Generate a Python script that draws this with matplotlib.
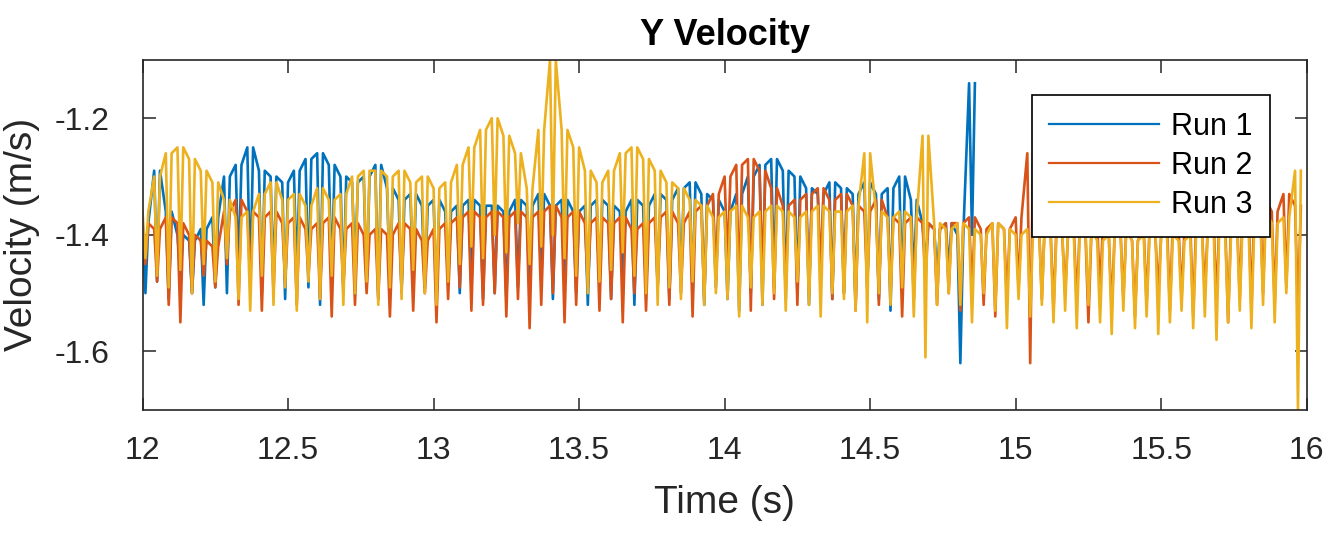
"""Y Velocity — tres ensayos superpuestos (estilo MATLAB)."""

import numpy as np
import matplotlib
matplotlib.use("Agg")
import matplotlib.pyplot as plt

plt.rcParams.update({
    "font.family":        "Liberation Sans",
    "axes.unicode_minus": False,
    "axes.edgecolor":     "#262626",
    "xtick.color":        "#262626",
    "ytick.color":        "#262626",
    "xtick.direction":    "in",
    "ytick.direction":    "in",
    "xtick.top":          True,
    "ytick.right":        True,
})

# ---------------------------------------------------------------------------
# Datos: máximos (tops) y mínimos (bottoms) de cada
# oscilación, muestreados cada 0.04 s desde t = 12 s
# ---------------------------------------------------------------------------
T0 = 12.0
DT = 0.04

run1_tops = [
    -1.38, -1.29, -1.36, -1.40, -1.41, -1.39, -1.37, -1.30, -1.28, -1.25,
    -1.29, -1.30, -1.31, -1.29, -1.27, -1.26, -1.28, -1.30, -1.31, -1.30,
    -1.28, -1.32, -1.34, -1.33, -1.35, -1.34, -1.36, -1.35, -1.34, -1.35,
    -1.35, -1.36, -1.34, -1.35, -1.33, -1.35, -1.34, -1.36, -1.35, -1.34,
    -1.35, -1.36, -1.34, -1.35, -1.33, -1.34, -1.32, -1.31, -1.33, -1.34,
    -1.36, -1.33, -1.30, -1.28, -1.27, -1.29, -1.30, -1.32, -1.33, -1.31,
    -1.32, -1.33, -1.31, -1.33, -1.32, -1.30, -1.34, -1.38, -1.39, -1.38,
    -1.40, -1.14,
]
run1_bottoms = [
    -1.50, -1.48, -1.51, -1.47, -1.50, -1.52, -1.49, -1.50, -1.46, -1.48,
    -1.50, -1.48, -1.51, -1.47, -1.49, -1.52, -1.48, -1.50, -1.46, -1.49,
    -1.51, -1.48, -1.50, -1.47, -1.49, -1.51, -1.48, -1.50, -1.49, -1.51,
    -1.50, -1.51, -1.49, -1.50, -1.48, -1.51, -1.49, -1.50, -1.52, -1.49,
    -1.51, -1.48, -1.52, -1.50, -1.49, -1.51, -1.48, -1.50, -1.52, -1.49,
    -1.51, -1.53, -1.50, -1.52, -1.49, -1.51, -1.50, -1.52, -1.48, -1.51,
    -1.50, -1.52, -1.49, -1.51, -1.53, -1.50, -1.48, -1.45, -1.47, -1.46,
    -1.62, -1.40,
]

run2_tops = [
    -1.38, -1.39, -1.37, -1.38, -1.40, -1.41, -1.42, -1.36, -1.34, -1.36,
    -1.37, -1.36, -1.38, -1.37, -1.39, -1.38, -1.37, -1.39, -1.38, -1.40,
    -1.39, -1.40, -1.38, -1.39, -1.41, -1.39, -1.38, -1.37, -1.36, -1.37,
    -1.36, -1.37, -1.36, -1.37, -1.36, -1.35, -1.37, -1.36, -1.38, -1.37,
    -1.38, -1.37, -1.39, -1.38, -1.37, -1.36, -1.38, -1.36, -1.35, -1.33,
    -1.30, -1.28, -1.27, -1.29, -1.32, -1.35, -1.34, -1.33, -1.32, -1.34,
    -1.33, -1.35, -1.36, -1.34, -1.37, -1.38, -1.37, -1.38, -1.39, -1.38,
    -1.38, -1.37, -1.39, -1.38, -1.39, -1.37, -1.26, -1.38, -1.39, -1.40,
    -1.39, -1.40, -1.38, -1.40, -1.39, -1.41, -1.39, -1.40, -1.38, -1.39,
    -1.38, -1.39, -1.37, -1.38, -1.36, -1.35, -1.34, -1.36, -1.33, -1.35,
]
run2_bottoms = [
    -1.45, -1.48, -1.52, -1.55, -1.50, -1.47, -1.49, -1.45, -1.52, -1.48,
    -1.53, -1.50, -1.48, -1.52, -1.47, -1.51, -1.54, -1.49, -1.52, -1.50,
    -1.51, -1.54, -1.49, -1.53, -1.50, -1.55, -1.51, -1.49, -1.53, -1.52,
    -1.50, -1.54, -1.51, -1.56, -1.52, -1.50, -1.55, -1.52, -1.49, -1.53,
    -1.51, -1.55, -1.50, -1.53, -1.49, -1.52, -1.50, -1.54, -1.51, -1.48,
    -1.45, -1.50, -1.53, -1.48, -1.51, -1.49, -1.52, -1.50, -1.47, -1.51,
    -1.50, -1.53, -1.49, -1.52, -1.50, -1.54, -1.51, -1.48, -1.52, -1.50,
    -1.53, -1.50, -1.52, -1.54, -1.51, -1.49, -1.62, -1.51, -1.53, -1.50,
    -1.52, -1.55, -1.50, -1.53, -1.51, -1.54, -1.52, -1.50, -1.53, -1.51,
    -1.54, -1.50, -1.52, -1.55, -1.51, -1.53, -1.50, -1.52, -1.49, -1.53,
]

run3_tops = [
    -1.36, -1.30, -1.26, -1.25, -1.27, -1.29, -1.31, -1.34, -1.37, -1.36,
    -1.33, -1.31, -1.34, -1.33, -1.35, -1.32, -1.34, -1.33, -1.30, -1.29,
    -1.29, -1.30, -1.29, -1.31, -1.30, -1.32, -1.31, -1.28, -1.25, -1.22,
    -1.20, -1.23, -1.26, -1.32, -1.22, -1.10, -1.22, -1.25, -1.29, -1.31,
    -1.29, -1.26, -1.25, -1.27, -1.29, -1.31, -1.32, -1.34, -1.35, -1.37,
    -1.36, -1.35, -1.37, -1.36, -1.35, -1.36, -1.37, -1.36, -1.35, -1.36,
    -1.36, -1.35, -1.26, -1.36, -1.37, -1.36, -1.37, -1.23, -1.38, -1.39,
    -1.38, -1.39, -1.40, -1.38, -1.39, -1.40, -1.39, -1.38, -1.40, -1.39,
    -1.40, -1.39, -1.41, -1.40, -1.39, -1.41, -1.40, -1.39, -1.40, -1.41,
    -1.40, -1.39, -1.38, -1.40, -1.37, -1.38, -1.36, -1.38, -1.37, -1.29,
]
run3_bottoms = [
    -1.44, -1.47, -1.49, -1.46, -1.50, -1.45, -1.48, -1.44, -1.51, -1.53,
    -1.47, -1.52, -1.49, -1.53, -1.48, -1.51, -1.47, -1.52, -1.50, -1.48,
    -1.52, -1.49, -1.51, -1.46, -1.50, -1.52, -1.48, -1.45, -1.42, -1.44,
    -1.40, -1.43, -1.38, -1.45, -1.42, -1.40, -1.44, -1.47, -1.50, -1.48,
    -1.46, -1.43, -1.47, -1.50, -1.52, -1.49, -1.51, -1.48, -1.52, -1.50,
    -1.51, -1.54, -1.49, -1.52, -1.50, -1.53, -1.48, -1.52, -1.54, -1.50,
    -1.51, -1.53, -1.55, -1.50, -1.52, -1.49, -1.54, -1.61, -1.52, -1.50,
    -1.52, -1.55, -1.50, -1.53, -1.56, -1.51, -1.54, -1.52, -1.55, -1.53,
    -1.56, -1.52, -1.55, -1.57, -1.53, -1.56, -1.54, -1.57, -1.55, -1.53,
    -1.56, -1.54, -1.58, -1.55, -1.53, -1.56, -1.52, -1.55, -1.50, -1.70,
]

RUNS = [
    ("Run 1", run1_tops, run1_bottoms, "#0072BD"),
    ("Run 2", run2_tops, run2_bottoms, "#D95319"),
    ("Run 3", run3_tops, run3_bottoms, "#EDB120"),
]

x_ticks = [12, 12.5, 13, 13.5, 14, 14.5, 15, 15.5, 16]
x_tick_labels = ["12", "12.5", "13", "13.5", "14", "14.5", "15", "15.5", "16"]
y_ticks = [-1.6, -1.4, -1.2]
y_tick_labels = ["-1.6", "-1.4", "-1.2"]


def build_series(tops, bottoms):
    """Cada oscilación: cae desde el máximo al mínimo y vuelve al máximo
    (pico estrecho); los máximos consecutivos forman la envolvente."""
    n = len(tops)
    t_top = T0 + DT * np.arange(n)
    t = np.empty(3 * n)
    v = np.empty(3 * n)
    t[0::3] = t_top
    t[1::3] = t_top + DT * 0.25
    t[2::3] = t_top + DT * 0.5
    v[0::3] = tops
    v[1::3] = bottoms
    v[2::3] = tops
    return t, v


def main():
    fig = plt.figure(figsize=(13.32, 5.35), dpi=100)
    ax = fig.add_axes([0.107, 0.234, 0.874, 0.654])

    for label, tops, bottoms, color in RUNS:
        t, v = build_series(tops, bottoms)
        ax.plot(t, v, color=color, linewidth=1.9, label=label)

    ax.set_xlim(12, 16)
    ax.set_ylim(-1.7, -1.1)
    ax.set_xticks(x_ticks)
    ax.set_xticklabels(x_tick_labels)
    ax.set_yticks(y_ticks)
    ax.set_yticklabels(y_tick_labels)
    ax.tick_params(labelsize=23, length=9, width=1.1)
    ax.tick_params(axis="x", pad=19)
    ax.tick_params(axis="y", pad=24)
    for sp in ax.spines.values():
        sp.set_linewidth(1.2)

    ax.set_xlabel("Time (s)", fontsize=28, color="#262626")
    ax.set_ylabel("Velocity (m/s)", fontsize=28, color="#262626")
    ax.xaxis.set_label_coords(0.5, -0.215)
    ax.yaxis.set_label_coords(-0.088, 0.5)
    ax.set_title("Y Velocity", fontsize=26, fontweight="bold", pad=11)

    leg = ax.legend(loc="upper right", bbox_to_anchor=(1 - 37 / 1164, 1 - 35 / 350),
                    borderaxespad=0, fontsize=22, handlelength=3.6,
                    labelspacing=0.3, fancybox=False, framealpha=1,
                    edgecolor="black", borderpad=0.55, handletextpad=0.4)
    leg.get_frame().set_linewidth(1.2)
    for line in leg.get_lines():
        line.set_linewidth(1.6)

    fig.savefig("out.png", dpi=100)
    plt.close(fig)


if __name__ == "__main__":
    main()
